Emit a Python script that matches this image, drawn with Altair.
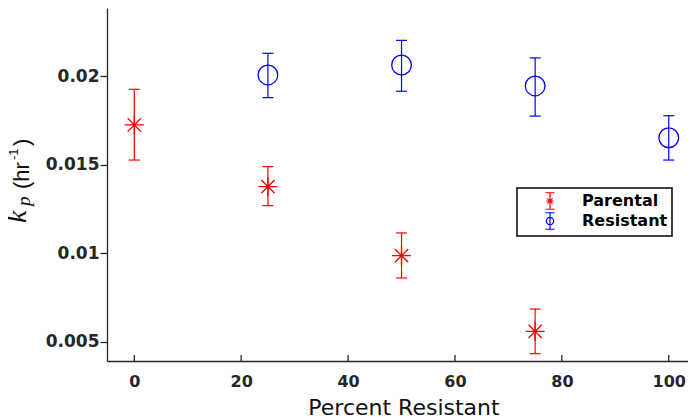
import altair as alt
import pandas as pd

# ---- data ----
series = ["Parental", "Resistant"]
colors = ["#ff0000", "#0000ff"]

par_pct = [0, 25, 50, 75]
par_k = [0.01724, 0.01376, 0.00987, 0.00560]
par_lo = [0.01526, 0.01269, 0.00861, 0.00434]
par_hi = [0.01925, 0.01489, 0.01115, 0.00686]

res_pct = [25, 50, 75, 100]
res_k = [0.02006, 0.02062, 0.01944, 0.01652]
res_lo = [0.01878, 0.01914, 0.01774, 0.01526]
res_hi = [0.02128, 0.02201, 0.02102, 0.01776]

x_ticks = [0, 20, 40, 60, 80, 100]
y_ticks = [0.005, 0.01, 0.015, 0.02]

W, H = 581, 353
AX = "#262626"

ASTERISK = "M-1,0L1,0M0,-1L0,1M-0.7,-0.7L0.7,0.7M-0.7,0.7L0.7,-0.7"
PAR_GLYPH = ("M0,-1L0,1M-0.55,-1L0.55,-1M-0.55,1L0.55,1"
             "M-0.45,0L0.45,0M-0.32,-0.32L0.32,0.32M-0.32,0.32L0.32,-0.32")
RES_GLYPH = ("M0,-1L0,1M-0.55,-1L0.55,-1M-0.55,1L0.55,1"
             "M-0.45,0A0.45,0.45 0 1,0 0.45,0A0.45,0.45 0 1,0 -0.45,0")

xs = alt.Scale(domain=[-5.11, 103.6], nice=False, zero=False)
ys = alt.Scale(domain=[0.003928, 0.023835], nice=False, zero=False)

xaxis = alt.Axis(values=x_ticks, ticks=False, tickSize=0, labelPadding=25.5,
                 labelBaseline="alphabetic", labelFont="DejaVu Sans",
                 labelFontWeight="bold", labelFontSize=16, labelColor=AX,
                 domainColor=AX, domainWidth=1.3, grid=False,
                 title="Percent Resistant", titleFont="DejaVu Sans",
                 titleFontWeight="normal", titleFontSize=22, titleColor="#111111",
                 titleX=296.5, titleY=53, titleBaseline="alphabetic",
                 titleAlign="center")
yaxis = alt.Axis(values=y_ticks, format="~g", tickSize=7, tickColor=AX,
                 tickWidth=1.3, labelPadding=1, labelFont="DejaVu Sans",
                 labelFontWeight="bold", labelFontSize=17, labelColor=AX,
                 domainColor=AX, domainWidth=1.3, grid=False, title=None)


def X(f):
    return alt.X(f"{f}:Q", scale=xs, axis=xaxis, title="Percent Resistant")


def Y(f):
    return alt.Y(f"{f}:Q", scale=ys, axis=yaxis, title=None)


def series_layers(pct, k, lo, hi, color, shape, size):
    df = pd.DataFrame({"pct": pct, "k": k, "lo": lo, "hi": hi})
    base = alt.Chart(df)
    bar = base.mark_rule(color=color, strokeWidth=1.2).encode(
        x=X("pct"), y=Y("lo"), y2="hi:Q")
    cap_lo = base.mark_tick(orient="horizontal", color=color, size=11,
                            thickness=1.2, opacity=1).encode(x=X("pct"), y=Y("lo"))
    cap_hi = base.mark_tick(orient="horizontal", color=color, size=11,
                            thickness=1.2, opacity=1).encode(x=X("pct"), y=Y("hi"))
    pts = base.mark_point(shape=shape, size=size, filled=False, color=color,
                          strokeWidth=1.3, opacity=1).encode(x=X("pct"), y=Y("k"))
    return [bar, cap_lo, cap_hi, pts]


layers = []
layers += series_layers(par_pct, par_k, par_lo, par_hi, colors[0], ASTERISK, 361)
layers += series_layers(res_pct, res_k, res_lo, res_hi, colors[1], "circle", 388)

# inward x ticks
xt = alt.Chart(pd.DataFrame({"t": x_ticks})).mark_rule(
    color=AX, strokeWidth=1.3).encode(x=X("t"), y=alt.value(H), y2=alt.value(H - 6))
layers.append(xt)

# legend (real legend driven by series scales; the layer draws no marks)
leg = alt.Legend(title=None, orient="none", legendX=410, legendY=180,
                 strokeColor="black", fillColor="white", padding=4,
                 symbolOffset=20, labelOffset=23, rowPadding=-2.5,
                 labelFont="DejaVu Sans", labelFontWeight="bold",
                 labelFontSize=16, labelColor="black", symbolSize=272,
                 symbolStrokeWidth=1.2, symbolOpacity=1)
legend_layer = alt.Chart(pd.DataFrame({"series": series})).transform_filter(
    "false").mark_point(filled=False, opacity=1).encode(
    color=alt.Color("series:N", scale=alt.Scale(domain=series, range=colors),
                    legend=leg),
    shape=alt.Shape("series:N", scale=alt.Scale(domain=series,
                                                range=[PAR_GLYPH, RES_GLYPH]),
                    legend=leg))
layers.append(legend_layer)

# y-axis title: k_p (hr^-1), built from pieces
one = pd.DataFrame({"a": [0]})


def piece(txt, x, y, font, size, italic=False):
    kw = dict(text=txt, angle=270, align="left", baseline="alphabetic",
              font=font, fontSize=size, color="#111111")
    if italic:
        kw["fontStyle"] = "italic"
    return alt.Chart(one).mark_text(**kw).encode(x=alt.value(x), y=alt.value(y))


layers += [
    piece("k", -81, 215, "Liberation Serif", 28, italic=True),
    piece("p", -77, 198, "Liberation Serif", 19, italic=True),
    piece("(hr", -78, 181, "Liberation Sans", 22),
    piece("-1", -89, 152, "Liberation Sans", 13),
    piece(")", -78, 138, "Liberation Sans", 22),
]

chart = alt.layer(*layers).properties(
    width=W, height=H,
    autosize=alt.AutoSizeParams(type="none"),
    padding={"left": 99, "top": 0, "right": 0, "bottom": 57},
    background="white",
).configure_view(strokeWidth=0).configure_legend(strokeWidth=1.5)

chart.save("out.html", embed_options={"renderer": "svg", "actions": False})
